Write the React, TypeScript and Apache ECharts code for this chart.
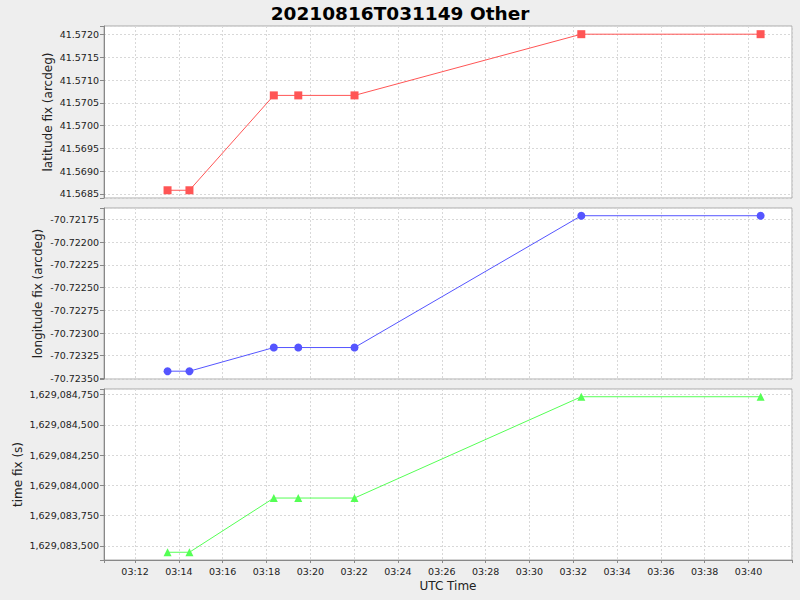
import React, { useEffect, useRef } from "react";
import * as echarts from "echarts";

const TITLE = "20210816T031149 Other";
const DATE = [2021, 7, 16];
const TIMES = ["03:13:29", "03:14:29", "03:18:20", "03:19:27", "03:22:01", "03:32:22", "03:40:33"];
const LATITUDE = [41.56858, 41.56858, 41.570665, 41.570665, 41.570665, 41.57201, 41.57201];
const LONGITUDE = [-70.72342, -70.72342, -70.72316, -70.72316, -70.72316, -70.72171, -70.72171];
const TIME_FIX = [1629083448, 1629083448, 1629083896, 1629083896, 1629083896, 1629084733, 1629084733];
const X_RANGE = ["03:10:35", "03:41:59"];
const LAT_RANGE = [41.56841, 41.57219];
const LON_RANGE = [-70.723506, -70.721625];
const TIMEFIX_RANGE = [1629083384, 1629084797];
const AXIS_NAMES = ["latitude fix (arcdeg)", "longitude fix (arcdeg)", "time fix (s)", "UTC Time"];

const toMs = (t: string) => {
  const [h, m, s] = t.split(":").map(Number);
  return Date.UTC(DATE[0], DATE[1], DATE[2], h, m, s);
};

const isMultiple = (v: number, step: number) => {
  const r = v / step;
  return Math.abs(r - Math.round(r)) < 1e-6;
};

export default function App() {
  const ref = useRef<HTMLDivElement>(null);
  useEffect(() => {
    document.body.style.margin = "0";
    const chart = echarts.init(ref.current!, null, { renderer: "svg" });
    const font = "DejaVu Sans";
    const grids = [
      { left: 104, top: 26, width: 688, height: 172 },
      { left: 104, top: 208, width: 688, height: 171 },
      { left: 104, top: 389, width: 688, height: 171 },
    ].map((g) => ({
      ...g,
      show: true,
      containLabel: false,
      outerBoundsMode: "none",
      backgroundColor: "#ffffff",
      borderColor: "#aaaaaa",
      borderWidth: 1,
    }));

    const splitLine = { show: true, lineStyle: { color: "#d8d8d8", type: [2, 2] as any, width: 1 } };
    const xMin = toMs(X_RANGE[0]);
    const xMax = toMs(X_RANGE[1]);
    const xStep = 120000;
    const xAxes = [0, 1, 2].map((i) => ({
      type: "value",
      gridIndex: i,
      min: xMin,
      max: xMax,
      minInterval: xStep,
      maxInterval: xStep,
      splitNumber: 15,
      axisLine: { show: i === 2, onZero: false, lineStyle: { color: "#888888" } },
      axisTick: { show: i === 2, length: 3, lineStyle: { color: "#888888" } },
      axisLabel: {
        show: i === 2,
        fontFamily: font,
        fontSize: 9.5,
        color: "#222222",
        margin: 6,
        formatter: (v: number) => {
          if (!isMultiple(v, xStep)) return "";
          const d = new Date(v);
          return String(d.getUTCHours()).padStart(2, "0") + ":" + String(d.getUTCMinutes()).padStart(2, "0");
        },
      },
      splitLine,
      name: i === 2 ? AXIS_NAMES[3] : "",
      nameLocation: "middle",
      nameGap: 20,
      nameMoveOverlap: false,
      nameTextStyle: { fontFamily: font, fontSize: 12, color: "#222222" },
    }));

    const yDefs = [
      { range: LAT_RANGE, step: 0.0005, fmt: (v: number) => v.toFixed(4), gap: 50 },
      { range: LON_RANGE, step: 0.00025, fmt: (v: number) => v.toFixed(5), gap: 60 },
      { range: TIMEFIX_RANGE, step: 250, fmt: (v: number) => Math.round(v).toLocaleString("en-US"), gap: 80 },
    ];
    const yAxes = yDefs.map((d, i) => ({
      type: "value",
      gridIndex: i,
      min: d.range[0],
      max: d.range[1],
      minInterval: d.step,
      maxInterval: d.step,
      splitNumber: 8,
      scale: true,
      axisLine: { show: true, lineStyle: { color: "#888888" } },
      axisTick: { show: true, length: 4, lineStyle: { color: "#888888" } },
      axisLabel: {
        fontFamily: font,
        fontSize: 9.5,
        color: "#222222",
        margin: 5,
        formatter: (v: number) => (isMultiple(v, d.step) ? d.fmt(v) : ""),
      },
      splitLine,
      name: AXIS_NAMES[i],
      nameLocation: "middle",
      nameGap: d.gap,
      nameMoveOverlap: false,
      nameTextStyle: { fontFamily: font, fontSize: 12, color: "#222222" },
    }));

    const xs = TIMES.map(toMs);
    const mk = (vals: number[], i: number, color: string, symbol: string, size: number) => ({
      type: "line",
      xAxisIndex: i,
      yAxisIndex: i,
      data: vals.map((v, k) => [xs[k], v]),
      symbol,
      symbolSize: size,
      showAllSymbol: true,
      lineStyle: { color, width: 1 },
      itemStyle: { color },
      emphasis: { disabled: true },
    });

    chart.setOption({
      animation: false,
      backgroundColor: "#eeeeee",
      title: {
        text: TITLE,
        left: "center",
        top: -1,
        textStyle: { fontFamily: font, fontSize: 18.5, fontWeight: "bold", color: "#000000" },
      },
      grid: grids,
      xAxis: xAxes,
      yAxis: yAxes,
      series: [
        mk(LATITUDE, 0, "#ff5555", "rect", 8),
        mk(LONGITUDE, 1, "#5555ff", "circle", 8),
        mk(TIME_FIX, 2, "#55ff55", "triangle", 8),
      ],
    });
    return () => chart.dispose();
  }, []);
  return <div ref={ref} style={{ width: 800, height: 600 }} />;
}
